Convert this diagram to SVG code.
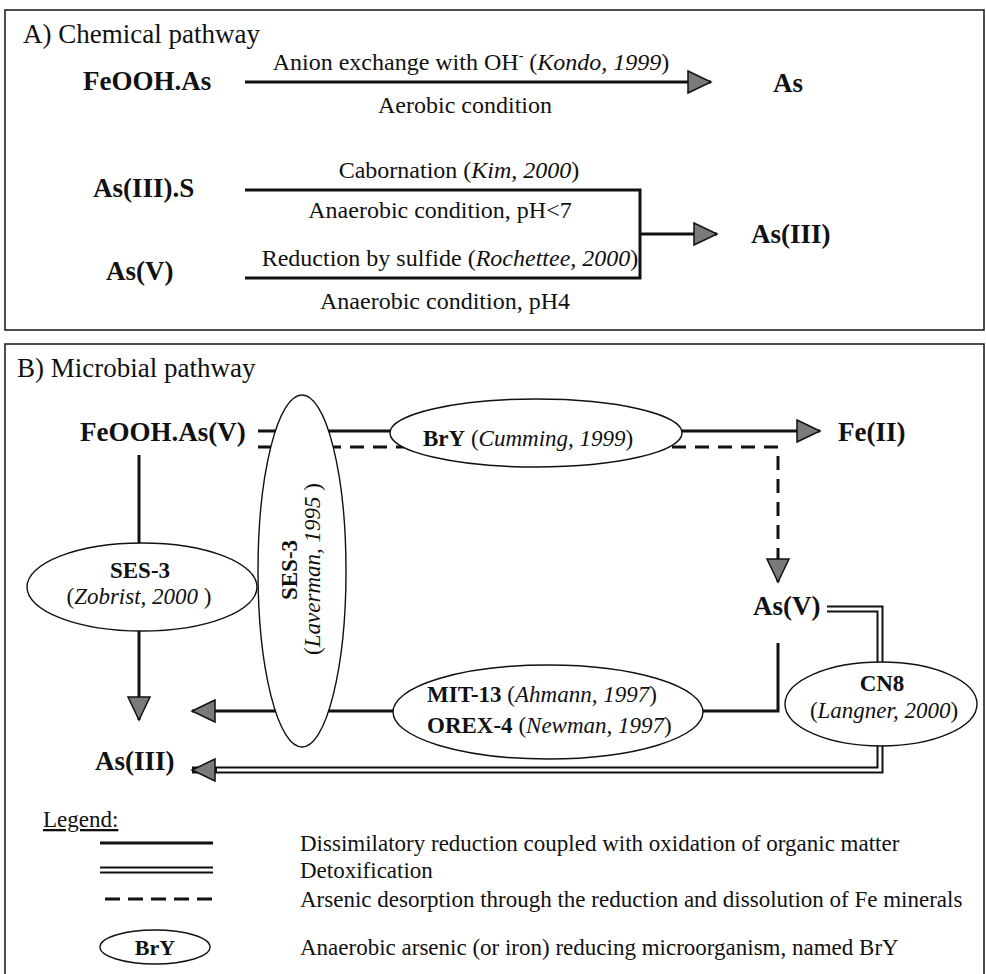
<svg xmlns="http://www.w3.org/2000/svg" width="986" height="974" viewBox="0 0 986 974">
<style>
text{font-family:"Liberation Serif","Times New Roman",serif;fill:#111}
.t{font-size:27px}
.lab{font-size:24px}
.b{font-weight:bold}
.i{font-style:italic}
.m{text-anchor:middle}
.s23{font-size:23px}
.s22{font-size:22px}
.box{fill:none;stroke:#222;stroke-width:1.6}
.ln{fill:none;stroke:#111;stroke-width:3}
.dash{stroke-dasharray:14 9}
.dout{fill:none;stroke:#111;stroke-width:7}
.din{fill:none;stroke:#fff;stroke-width:3}
.ell{fill:#fff;stroke:#111;stroke-width:1.4}
</style>
<defs>
<marker id="ah" markerUnits="userSpaceOnUse" viewBox="-2 -2 27 26" markerWidth="27" markerHeight="26" refX="23" refY="11" orient="auto">
<path d="M0,0 L23,11 L0,22 Z" fill="#7a7a7a" stroke="#111" stroke-width="1.5" stroke-dasharray="none"/>
</marker>
</defs>
<rect width="986" height="974" fill="#fff"/>
<g id="panels">
<rect class="box" x="5" y="10" width="979" height="320"/>
<rect class="box" x="5" y="344" width="979" height="640"/>
<text class="t" x="23" y="43">A) Chemical pathway</text>
<text class="t" x="17" y="377">B) Microbial pathway</text>
</g>
<g id="connectors">
<path class="ln" d="M245 82 H711" marker-end="url(#ah)"/>
<path class="ln" d="M245 190 H640 V278 H245" stroke-linejoin="miter"/>
<path class="ln" d="M640 234 H717" marker-end="url(#ah)"/>
<path class="ln" d="M258 431 H820" marker-end="url(#ah)"/>
<path class="ln dash" d="M258 447 H778 V582" marker-end="url(#ah)"/>
<path class="ln" d="M139 455 V720" marker-end="url(#ah)"/>
<path class="ln" d="M778 643 V711 H192" marker-end="url(#ah)"/>
<path class="dout" d="M827 609 H880 V770 H192" marker-end="url(#ah)"/>
<path class="din" d="M827 609 H880 V770 H217"/>
</g>
<g id="chem">
<text class="t b" x="83" y="90">FeOOH.As</text>
<text class="lab m" x="471" y="70">Anion exchange with OH<tspan font-size="14" dy="-10">-</tspan><tspan dy="10"> (</tspan><tspan class="i">Kondo, 1999</tspan>)</text>
<text class="lab m" x="465" y="113">Aerobic condition</text>
<text class="t b" x="773" y="92">As</text>
<text class="t b" x="93" y="197">As(III).S</text>
<text class="lab m" x="459" y="178">Cabornation (<tspan class="i">Kim, 2000</tspan>)</text>
<text class="lab m" x="440" y="218">Anaerobic condition, pH&lt;7</text>
<text class="t b" x="751" y="243">As(III)</text>
<text class="lab m" x="450" y="266">Reduction by sulfide (<tspan class="i">Rochettee, 2000</tspan>)</text>
<text class="t b" x="106" y="280">As(V)</text>
<text class="lab m" x="445" y="309">Anaerobic condition, pH4</text>
</g>
<g id="node-feooh-asv"><text class="t b" x="80" y="441">FeOOH.As(V)</text></g>
<g id="node-feii"><text class="t b" x="838" y="441">Fe(II)</text></g>
<g id="node-asv"><text class="t b" x="753" y="615">As(V)</text></g>
<g id="node-asiii"><text class="t b" x="95" y="770">As(III)</text></g>
<g id="node-ses3-zobrist">
<ellipse class="ell" cx="142" cy="587" rx="115" ry="44"/>
<text class="s23 b m" x="140" y="578">SES-3</text>
<text class="s23 m" x="139" y="604">(<tspan class="i">Zobrist, 2000</tspan> )</text>
</g>
<g id="node-ses3-laverman">
<ellipse class="ell" cx="302" cy="571" rx="44" ry="176"/>
<text class="s23 b m" transform="translate(297,570) rotate(-90)">SES-3</text>
<text class="s23 m" transform="translate(320,569) rotate(-90)">(<tspan class="i">Laverman, 1995</tspan> )</text>
</g>
<g id="node-bry">
<ellipse class="ell" cx="536" cy="433" rx="146" ry="34"/>
<text class="s23" x="423" y="446"><tspan class="b">BrY</tspan> (<tspan class="i">Cumming, 1999</tspan>)</text>
</g>
<g id="node-mit">
<ellipse class="ell" cx="548" cy="712" rx="155" ry="47"/>
<text class="s23" x="427" y="702"><tspan class="b">MIT-13</tspan> (<tspan class="i">Ahmann, 1997</tspan>)</text>
<text class="s23" x="427" y="733"><tspan class="b">OREX-4</tspan> (<tspan class="i">Newman, 1997</tspan>)</text>
</g>
<g id="node-cn8">
<ellipse class="ell" cx="881" cy="704" rx="96" ry="42"/>
<text class="s23 b m" x="882" y="691">CN8</text>
<text class="s23 m" x="884" y="718">(<tspan class="i">Langner, 2000</tspan>)</text>
</g>
<g id="legend">
<text class="s23" x="43" y="827" text-decoration="underline">Legend:</text>
<path class="ln" d="M100 843 H213"/>
<path class="dout" d="M100 870 H213"/>
<path class="din" d="M100 870 H213"/>
<path class="ln" d="M105 899 H213" stroke-dasharray="15 8"/>
<ellipse class="ell" cx="155" cy="947" rx="55" ry="17"/>
<text class="s22 b m" x="155" y="955">BrY</text>
<text class="s23" x="300" y="851">Dissimilatory reduction coupled with oxidation of organic matter</text>
<text class="s23" x="300" y="878">Detoxification</text>
<text class="s23" x="300" y="907">Arsenic desorption through the reduction and dissolution of Fe minerals</text>
<text class="s23" x="300" y="955">Anaerobic arsenic (or iron) reducing microorganism, named BrY</text>
</g>
</svg>
